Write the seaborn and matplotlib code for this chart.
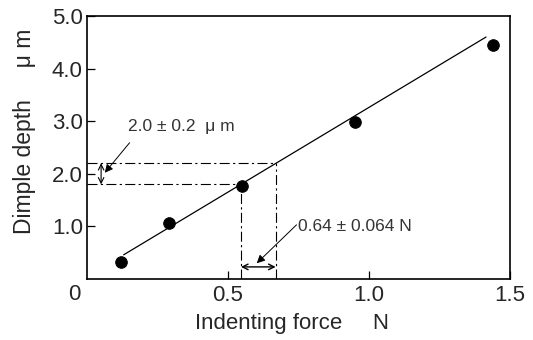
import numpy as np
import pandas as pd
import matplotlib
matplotlib.use("Agg")
import matplotlib.pyplot as plt
import seaborn as sns

# measured points
force = [0.12, 0.29, 0.55, 0.95, 1.44]
depth = [0.32, 1.06, 1.77, 2.98, 4.45]

# fitted line end points
fit_force = [0.13, 1.415]
fit_depth = [0.46, 4.60]

# tolerance band
depth_lo, depth_hi = 1.8, 2.2
force_lo, force_hi = 0.546, 0.669

xtick_vals = [0.5, 1.0, 1.5]
xtick_labels = ["0.5", "1.0", "1.5"]
ytick_vals = [1, 2, 3, 4, 5]
ytick_labels = ["1.0", "2.0", "3.0", "4.0", "5.0"]

sns.set_style("ticks")
plt.rcParams["font.family"] = ["Liberation Sans", "DejaVu Sans"]

fig = plt.figure(figsize=(5.33, 3.40), dpi=100)
ax = fig.add_axes([87 / 533, 1 - 279 / 340, 423 / 533, 263 / 340])

pts = pd.DataFrame({"force": force, "depth": depth})
fit = pd.DataFrame({"force": fit_force, "depth": fit_depth})

sns.lineplot(data=fit, x="force", y="depth", ax=ax, color="black", lw=0.9)
sns.scatterplot(data=pts, x="force", y="depth", ax=ax, color="black", s=70,
                edgecolor="black", zorder=5)

ax.set_xlim(0, 1.5)
ax.set_ylim(0, 5)

# dash-dot guide lines
dd = (0, (9, 3, 2, 3))
ax.plot([0, force_lo], [depth_lo, depth_lo], color="black", lw=0.8, ls=dd)
ax.plot([0, force_hi], [depth_hi, depth_hi], color="black", lw=0.8, ls=dd)
ax.plot([force_lo, force_lo], [0, depth_lo], color="black", lw=0.8, ls=dd)
ax.plot([force_hi, force_hi], [0, depth_hi], color="black", lw=0.8, ls=dd)

# double arrows
ax.annotate("", xy=(0.05, depth_lo), xytext=(0.05, depth_hi),
            arrowprops=dict(arrowstyle="<->", color="black", lw=0.8,
                            shrinkA=0, shrinkB=0))
ax.annotate("", xy=(force_lo, 0.23), xytext=(force_hi, 0.23),
            arrowprops=dict(arrowstyle="<->", color="black", lw=1.0,
                            shrinkA=0, shrinkB=0))

# leader arrows and labels
ax.annotate("", xy=(0.063, 2.02), xytext=(0.151, 2.59),
            arrowprops=dict(arrowstyle="-|>", color="black", lw=0.7,
                            mutation_scale=12, shrinkA=0, shrinkB=0))
ax.text(0.144, 2.89, "2.0 ± 0.2  μ m", fontsize=12.5, color="#333333",
        ha="left", va="center")
ax.annotate("", xy=(0.602, 0.30), xytext=(0.743, 1.03),
            arrowprops=dict(arrowstyle="-|>", color="black", lw=0.7,
                            mutation_scale=12, shrinkA=0, shrinkB=0))
ax.text(0.75, 0.99, "0.64 ± 0.064 N", fontsize=12.5, color="#333333",
        ha="left", va="center")

ax.set_xticks(xtick_vals)
ax.set_xticklabels(xtick_labels)
ax.set_yticks(ytick_vals)
ax.set_yticklabels(ytick_labels)
ax.tick_params(direction="in", length=6, width=0.9, labelsize=16, color="black")
ax.tick_params(axis="x", pad=4)
ax.tick_params(axis="y", pad=3)

for side in ["top", "right", "bottom", "left"]:
    ax.spines[side].set_visible(True)
    ax.spines[side].set_color("black")
    ax.spines[side].set_linewidth(1.2)

fig.text(74 / 533, 1 - 294 / 340, "0", fontsize=16, ha="center", va="center")

ax.set_xlabel("Indenting force     N", fontsize=16)
ax.set_ylabel("Dimple depth     μ m", fontsize=16.5)
ax.xaxis.set_label_coords(0.485, -0.13)
ax.yaxis.set_label_coords(-0.12, 0.56)

fig.savefig("out.png", dpi=100)
